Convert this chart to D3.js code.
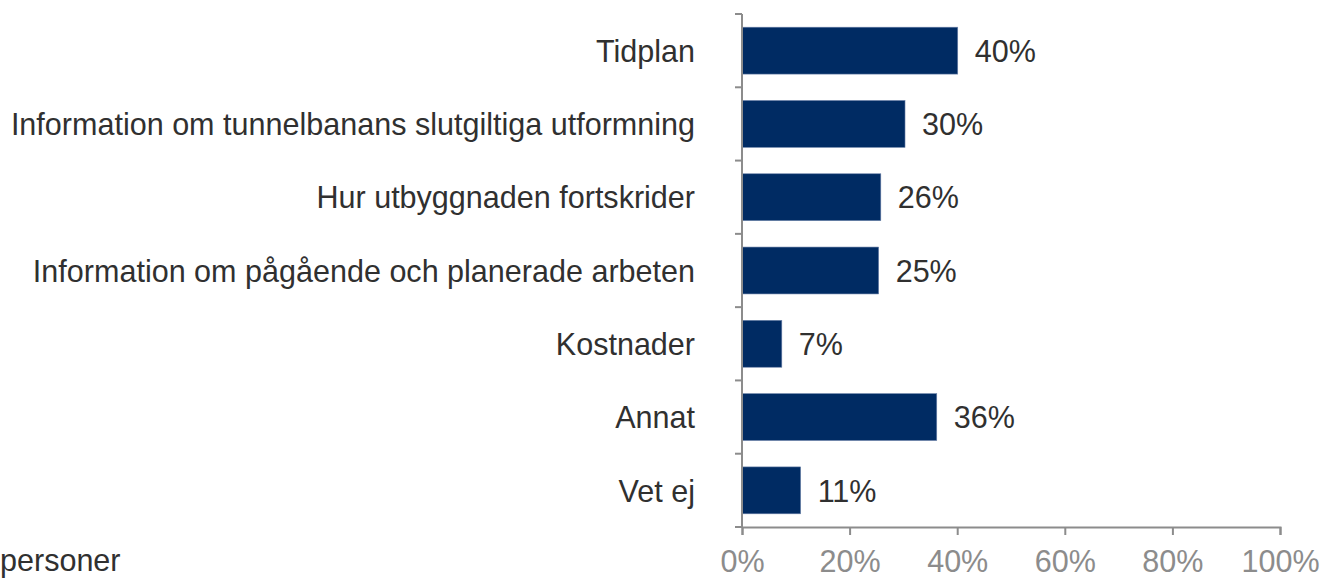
<!DOCTYPE html>
<html>
<head>
<meta charset="utf-8">
<script src="https://cdn.jsdelivr.net/npm/d3@7"></script>
<style>
  body { margin: 0; background: #fff; }
  svg { display: block; font-family: "Liberation Sans", Arial, sans-serif; }
</style>
</head>
<body>
<svg id="chart" width="1328" height="579"></svg>
<script>
// categories, top to bottom
const categories = [
    "Tidplan",
    "Information om tunnelbanans slutgiltiga utformning",
    "Hur utbyggnaden fortskrider",
    "Information om pågående och planerade arbeten",
    "Kostnader",
    "Annat",
    "Vet ej"
];
// share of respondents (%)
const values = [40.1, 30.3, 25.8, 25.4, 7.4, 36.2, 10.9];
const tickValues = [0, 20, 40, 60, 80, 100];

const svg = d3.select("#chart");
const squeeze = 0.955;   // reference font is a bit narrower than Liberation Sans
const fontSize = 32;
const textColor = "#303030";
const axisColor = "#8c8c8c";

const x = d3.scaleLinear().domain([0, 100]).range([742, 1280]);
const y = d3.scaleBand().domain(categories).range([14, 527]).paddingInner(0.36).paddingOuter(0.18);

// bars
svg.append("g")
    .selectAll("rect")
    .data(values)
    .join("rect")
    .attr("x", x(0))
    .attr("y", (d, i) => y(categories[i]))
    .attr("width", d => x(d) - x(0))
    .attr("height", y.bandwidth())
    .attr("fill", "#002B63")
    .attr("stroke", "#6d83aa")
    .attr("stroke-width", 0.6);

// value labels
svg.append("g")
    .selectAll("text")
    .data(values)
    .join("text")
    .attr("transform", (d, i) => `translate(${x(d) + 17},${y(categories[i]) + y.bandwidth() / 2}) scale(${squeeze},1)`)
    .attr("dy", "0.35em")
    .attr("font-size", fontSize)
    .attr("fill", textColor)
    .text(d => Math.round(d) + "%");

// category labels
svg.append("g")
    .selectAll("text")
    .data(categories)
    .join("text")
    .attr("transform", d => `translate(695,${y(d) + y.bandwidth() / 2}) scale(${squeeze},1)`)
    .attr("dy", "0.35em")
    .attr("text-anchor", "end")
    .attr("font-size", fontSize)
    .attr("fill", textColor)
    .text(d => d);

// y axis: line plus tick marks at band boundaries
const yTicks = d3.range(categories.length + 1).map(i => 14 + i * (513 / categories.length));
svg.append("line")
    .attr("x1", 742).attr("x2", 742)
    .attr("y1", 14).attr("y2", 527)
    .attr("stroke", axisColor).attr("stroke-width", 2);
svg.append("g")
    .selectAll("line")
    .data(yTicks)
    .join("line")
    .attr("x1", 735).attr("x2", 742)
    .attr("y1", d => d).attr("y2", d => d)
    .attr("stroke", axisColor).attr("stroke-width", 2);

// x axis
const xAxis = svg.append("g")
    .attr("transform", "translate(0,527)")
    .call(d3.axisBottom(x).tickValues(tickValues).tickFormat(d => d + "%").tickSize(8).tickPadding(14));
xAxis.select(".domain").attr("stroke", axisColor).attr("stroke-width", 2);
xAxis.selectAll(".tick line").attr("stroke", axisColor).attr("stroke-width", 2);
xAxis.selectAll(".tick text")
    .attr("font-family", "Liberation Sans, Arial, sans-serif")
    .attr("font-size", fontSize)
    .attr("fill", axisColor)
    .attr("transform", `scale(${squeeze},1)`);

// cut-off footnote
svg.append("text")
    .attr("transform", `translate(0,571) scale(${squeeze},1)`)
    .attr("font-size", fontSize)
    .attr("fill", textColor)
    .text("personer");
</script>
</body>
</html>
